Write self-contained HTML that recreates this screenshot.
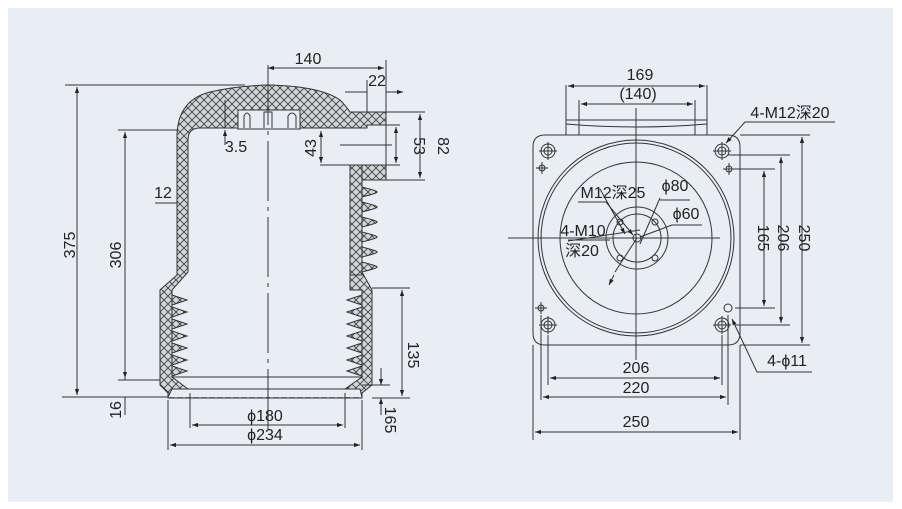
<!DOCTYPE html>
<html><head><meta charset="utf-8"><style>
html,body{margin:0;padding:0;background:#fff;}
svg{display:block}
text{font-family:"Liberation Sans","Noto Sans CJK SC",sans-serif;font-size:16px;fill:#222}
</style></head><body>
<svg width="902" height="509" viewBox="0 0 902 509" xmlns="http://www.w3.org/2000/svg">
<defs>
<pattern id="h" width="8" height="8" patternUnits="userSpaceOnUse">
<rect width="8" height="8" fill="#d3d7db"/>
<path d="M0 0L8 8M8 0L0 8" stroke="#3a3a3a" stroke-width="0.8"/>
</pattern>
<marker id="a" viewBox="0 0 10 10" refX="10" refY="5" markerWidth="8" markerHeight="6" orient="auto-start-reverse"><path d="M0 1.5L10 5L0 8.5z" fill="#222"/></marker>
</defs>
<rect x="8" y="8" width="885" height="494" fill="#e8eef3"/>
<g stroke="#333" stroke-width="1" fill="none">
<path fill="url(#h)" d="M177 275 L177 135 Q178 100 210 92 Q235 86 268 85 Q320 86 340 100 Q346 106 350 112 L386 112 L386 180 L362 180 L362 272 L372 290 L372 385 L362 393 L362 398 L168 398 L168 393 L160 385 L160 290 Z"/>
<path fill="#e8eef3" d="M188 140 Q188 128 200 128 L367 128 L367 125 L386 125 L386 165 L350 165 L350 272 L350 290 L362 290 L362 377 L172 377 L172 290 L188 272 Z"/>
<path fill="#e8eef3" d="M172 377 L188 389 L345 389 L362 377 Z"/>
<path d="M168 397 L172 389 L360 389 L362 397" fill="#e8eef3"/>
<rect x="350" y="165" width="12" height="110" fill="url(#h)"/>
<rect x="238" y="110" width="62" height="19" fill="#e8eef3"/>
<path d="M244 128 V116 Q247 110 250 116 V128 M264 128 V112 H272 V128 M288 128 V116 Q292 110 296 116 V128"/>
<g fill="url(#h)">
<path d="M362 187 Q378 191 377 192 Q378 193 362 197Z"/><path d="M362 202 Q378 206 377 207 Q378 208 362 212Z"/><path d="M362 217 Q378 221 377 222 Q378 223 362 227Z"/><path d="M362 232 Q378 236 377 237 Q378 238 362 242Z"/><path d="M362 247 Q378 251 377 252 Q378 253 362 257Z"/><path d="M362 262 Q378 266 377 267 Q378 268 362 272Z"/>
</g>
<g fill="url(#h)">
<path d="M172 295 L187 300 L172 305Z"/><path d="M172 307 L187 312 L172 317Z"/><path d="M172 319 L187 324 L172 329Z"/><path d="M172 331 L187 336 L172 341Z"/><path d="M172 343 L187 348 L172 353Z"/><path d="M172 355 L187 360 L172 365Z"/><path d="M172 366 L187 371 L172 376Z"/>
<path d="M362 295 L347 300 L362 305Z"/><path d="M362 307 L347 312 L362 317Z"/><path d="M362 319 L347 324 L362 329Z"/><path d="M362 331 L347 336 L362 341Z"/><path d="M362 343 L347 348 L362 353Z"/><path d="M362 355 L347 360 L362 365Z"/><path d="M362 366 L347 371 L362 376Z"/>
</g>
<path d="M268 65 V430" stroke-dasharray="60 6 4 6"/>
<path d="M340 145 H392"/>
<path d="M65 85 H245 M118 130 H178 M118 380 H160 M62 397 H168"/>
<path d="M77 87 V395" marker-start="url(#a)" marker-end="url(#a)"/>
<path d="M125 132 V378" marker-start="url(#a)" marker-end="url(#a)"/>
<path d="M125 397 V415 M125 380 V370"/>
<path d="M268 68 H384" marker-start="url(#a)" marker-end="url(#a)"/>
<path d="M386 60 V112 M367 80 V112"/>
<path d="M345 92 H367 M386 92 H403" marker-end="url(#a)"/>
<path d="M386 112 H425 M386 125 H400 M386 165 H400 M386 180 H425 M320 165 H350"/>
<path d="M420 114 V178" marker-start="url(#a)" marker-end="url(#a)"/>
<path d="M396 127 V163" marker-start="url(#a)" marker-end="url(#a)"/>
<path d="M321 131 V163" marker-start="url(#a)" marker-end="url(#a)"/>
<path d="M225 100 V128 M225 145 V130" marker-end="url(#a)"/>
<path d="M155 203 H177"/>
<path d="M372 288 H410 M372 398 H410 M362 385 H390"/>
<path d="M402 290 V396" marker-start="url(#a)" marker-end="url(#a)"/>
<path d="M381 368 V385" marker-end="url(#a)"/><path d="M381 415 V398" marker-end="url(#a)"/>
<path d="M168 400 V450 M362 400 V450 M190 393 V428 M345 393 V428"/>
<path d="M192 425 H343" marker-start="url(#a)" marker-end="url(#a)"/>
<path d="M170 445 H360" marker-start="url(#a)" marker-end="url(#a)"/>
</g>
<text x="308" y="64" text-anchor="middle">140</text>
<text x="377" y="86" text-anchor="middle">22</text>
<text x="236" y="152" text-anchor="middle">3.5</text>
<text x="163" y="198" text-anchor="middle">12</text>
<text transform="translate(316,148) rotate(-90)" text-anchor="middle">43</text>
<text transform="translate(414,146) rotate(90)" text-anchor="middle">53</text>
<text transform="translate(438,146) rotate(90)" text-anchor="middle">82</text>
<text transform="translate(75,245) rotate(-90)" text-anchor="middle">375</text>
<text transform="translate(121,255) rotate(-90)" text-anchor="middle">306</text>
<text transform="translate(121,410) rotate(-90)" text-anchor="middle">16</text>
<text transform="translate(408,355) rotate(90)" text-anchor="middle">135</text>
<text transform="translate(385,420) rotate(90)" text-anchor="middle">165</text>
<text x="265" y="421" text-anchor="middle">ϕ180</text>
<text x="265" y="440" text-anchor="middle">ϕ234</text>

<g stroke="#333" stroke-width="1" fill="none">
<path d="M566 120 H707 V135 H566Z" fill="#e8eef3"/>
<path d="M566 124 Q636 130 707 124"/>
<path d="M545 135 H728 Q740 135 740 147 V333 Q740 345 728 345 H545 Q533 345 533 333 V147 Q533 135 545 135Z"/>
<circle cx="636" cy="238" r="98"/>
<circle cx="636" cy="238" r="95"/>
<circle cx="636" cy="238" r="76"/>
<circle cx="637" cy="238" r="31"/>
<circle cx="637" cy="238" r="24"/>
<circle cx="637" cy="238" r="4"/>
<circle cx="620" cy="222" r="3"/><circle cx="655" cy="222" r="3"/><circle cx="620" cy="258" r="3"/><circle cx="655" cy="258" r="3"/>
<path d="M508 238 H720 M636 108 V360"/>
<g>
<circle cx="548" cy="151" r="7"/><circle cx="548" cy="151" r="4"/><path d="M539 151H557M548 142V160"/>
<circle cx="722" cy="151" r="7"/><circle cx="722" cy="151" r="4"/><path d="M713 151H731M722 142V160"/>
<circle cx="548" cy="325" r="7"/><circle cx="548" cy="325" r="4"/><path d="M539 325H557M548 316V334"/>
<circle cx="722" cy="325" r="7"/><circle cx="722" cy="325" r="4"/><path d="M713 325H731M722 316V334"/>
<circle cx="542" cy="168" r="3"/><path d="M536 168H548M542 162V174"/>
<circle cx="729" cy="169" r="3"/><path d="M723 169H735M729 163V175"/>
<circle cx="541" cy="308" r="3"/><path d="M535 308H547M541 302V314"/>
<circle cx="728" cy="308" r="4"/>
</g>
<path d="M566 85 V135 M707 85 V135 M579 100 V135 M695 100 V135"/>
<path d="M568 86 H705" marker-start="url(#a)" marker-end="url(#a)"/>
<path d="M581 104 H693" marker-start="url(#a)" marker-end="url(#a)"/>
<path d="M740 135 H810 M728 155 H790 M735 169 H775 M735 308 H775 M735 325 H790 M740 345 H810"/>
<path d="M802 137 V343" marker-start="url(#a)" marker-end="url(#a)"/>
<path d="M781 157 V323" marker-start="url(#a)" marker-end="url(#a)"/>
<path d="M764 171 V306" marker-start="url(#a)" marker-end="url(#a)"/>
<path d="M548 335 V385 M722 335 V385 M541 315 V400 M728 315 V405 M533 345 V440 M740 345 V440"/>
<path d="M550 378 H720" marker-start="url(#a)" marker-end="url(#a)"/>
<path d="M543 397 H726" marker-start="url(#a)" marker-end="url(#a)"/>
<path d="M535 432 H738" marker-start="url(#a)" marker-end="url(#a)"/>
<path d="M835 122 H745 L726 143" marker-end="url(#a)"/>
<path d="M812 372 H757 L732 319" marker-end="url(#a)"/>
<path d="M578 202 H606 L633 235" marker-end="url(#a)"/>
<path d="M568 240 H610 M568 241 L640 230"/>
<path d="M600 189 L625 234" marker-end="url(#a)"/>
<path d="M640 244 L660 198 M690 200 H660 M615 272 L637 238"/>
<path d="M640 237 L672 225 M672 225 H702"/>
<path d="M614 275 L609 285" marker-end="url(#a)"/>
</g>
<text x="640" y="80" text-anchor="middle">169</text>
<text x="638" y="99" text-anchor="middle">(140)</text>
<text x="790" y="118" text-anchor="middle">4-M12深20</text>
<text x="613" y="198" text-anchor="middle" font-size="14">M12深25</text>
<text x="675" y="191" text-anchor="middle">ϕ80</text>
<text x="686" y="219" text-anchor="middle">ϕ60</text>
<text x="583" y="236" text-anchor="middle" font-size="14">4-M10</text>
<text x="582" y="256" text-anchor="middle" font-size="14">深20</text>
<text transform="translate(758,238) rotate(90)" text-anchor="middle">165</text>
<text transform="translate(778,238) rotate(90)" text-anchor="middle">206</text>
<text transform="translate(799,238) rotate(90)" text-anchor="middle">250</text>
<text x="787" y="366" text-anchor="middle">4-ϕ11</text>
<text x="636" y="373" text-anchor="middle">206</text>
<text x="636" y="393" text-anchor="middle">220</text>
<text x="636" y="427" text-anchor="middle">250</text>
</svg>
</body></html>
